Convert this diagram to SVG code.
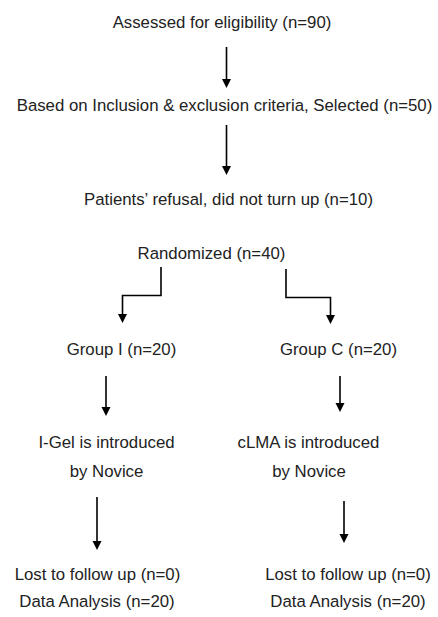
<svg xmlns="http://www.w3.org/2000/svg" width="438" height="617" viewBox="0 0 438 617">
<style>
text{font-family:"Liberation Sans",Arial,sans-serif;font-size:16.8px;fill:#222;text-anchor:middle}
.c{fill:none;stroke:#000;stroke-width:1.6}
</style>
<rect width="438" height="617" fill="#fff"/>
<g id="connectors">
<path class="c" d="M226.5,47 V80"/>
<path class="c" d="M226.5,125 V167"/>
<path class="c" d="M161,267 V295.5 H122.5 V315"/>
<path class="c" d="M286,269 V297.5 H330.5 V316"/>
<path class="c" d="M106,376 V408"/>
<path class="c" d="M340,376 V404"/>
<path class="c" d="M97,497 V542"/>
<path class="c" d="M344,501 V535"/>
<g fill="#000">
<path d="M222,79 L231,79 L226.5,88 Z"/>
<path d="M222,166 L231,166 L226.5,175 Z"/>
<path d="M118,314 L127,314 L122.5,323 Z"/>
<path d="M326,315 L335,315 L330.5,324 Z"/>
<path d="M101.5,407 L110.5,407 L106,416 Z"/>
<path d="M335.5,403 L344.5,403 L340,412 Z"/>
<path d="M92.5,541 L101.5,541 L97,550 Z"/>
<path d="M339.5,534 L348.5,534 L344,543 Z"/>
</g>
</g>
<g id="assessed"><text x="222" y="28">Assessed for eligibility (n=90)</text></g>
<g id="selected"><text x="224.5" y="111">Based on Inclusion &amp; exclusion criteria, Selected (n=50)</text></g>
<g id="refusal"><text x="228.5" y="205">Patients’ refusal, did not turn up (n=10)</text></g>
<g id="randomized"><text x="211.5" y="259">Randomized (n=40)</text></g>
<g id="groupI"><text x="121.5" y="355">Group I (n=20)</text></g>
<g id="groupC"><text x="338.5" y="355">Group C (n=20)</text></g>
<g id="igel"><text x="106.5" y="448">I-Gel is introduced</text><text x="106.5" y="477">by Novice</text></g>
<g id="clma"><text x="308.5" y="448">cLMA is introduced</text><text x="309" y="477">by Novice</text></g>
<g id="followI"><text x="97.5" y="580">Lost to follow up (n=0)</text><text x="97" y="607">Data Analysis (n=20)</text></g>
<g id="followC"><text x="348" y="580">Lost to follow up (n=0)</text><text x="348" y="607">Data Analysis (n=20)</text></g>
</svg>
